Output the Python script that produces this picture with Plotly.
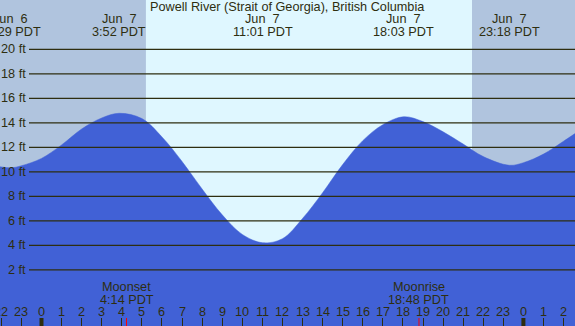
import plotly.graph_objects as go

# Tide curve: hours relative to Jun 7 00:00 PDT, heights in ft
tide_hours = [-2.07, -1.52, -1, 0, 1, 2, 3, 3.87, 5, 6, 7, 8, 9, 10, 11.02, 12, 13, 14,
              15, 16, 17, 18.05, 19, 20, 21, 22, 23.3, 24, 25, 26, 27]
tide_ft = [10.42, 10.33, 10.5, 11.1, 12.2, 13.5, 14.4, 14.78, 14.35, 12.85, 10.85, 8.6, 6.5,
           4.9, 4.22, 4.55, 6.2, 8.3, 10.6, 12.55, 13.85, 14.5, 14.1, 13.27, 12.27, 11.25,
           10.54, 10.75, 11.45, 12.5, 13.6]

# Extremes (labels at the top)
event_hours = [-1.52, 3.87, 11.02, 18.05, 23.3]
event_dates = ["Jun\u00a0\u00a06", "Jun\u00a0\u00a07", "Jun\u00a0\u00a07", "Jun\u00a0\u00a07", "Jun\u00a0\u00a07"]
event_times = ["22:29 PDT", "3:52 PDT", "11:01 PDT", "18:03 PDT", "23:18 PDT"]

# Moon events (labels at the bottom)
moon_hours = [4.233, 18.8]
moon_names = ["Moonset", "Moonrise"]
moon_times = ["4:14 PDT", "18:48 PDT"]

# Sun
sunrise_h = 5.2
sunset_h = 21.44

# Axes
x_range = [-2.067, 26.57]
y_range = [-2.57, 24.02]
ft_ticks = [2, 4, 6, 8, 10, 12, 14, 16, 18, 20]
hour_ticks = list(range(-2, 27))
hour_labels = [str(h % 24) for h in hour_ticks]
midnights = [0, 24]

TITLE = "Powell River (Strait of Georgia), British Columbia"
NIGHT = "#B0C4DE"
DAY = "#DFF7FF"
BLUE = "#4161D6"
DARK = "#2E2E10"
FONT = "Liberation Sans, Arial, sans-serif"
FS = 12.7

fig = go.Figure()
fig.add_trace(go.Scatter(x=x_range, y=[y_range[0] - 1] * 2, mode="lines",
                         line=dict(width=0, color=BLUE), hoverinfo="skip", showlegend=False))
fig.add_trace(go.Scatter(x=tide_hours, y=tide_ft, mode="lines", line_shape="spline",
                         line=dict(width=0.5, color=BLUE), fill="tonexty", fillcolor=BLUE,
                         hoverinfo="skip", showlegend=False))

shapes = []
# night shading
shapes.append(dict(type="rect", xref="x", yref="paper", x0=x_range[0] - 1, x1=sunrise_h,
                   y0=0, y1=1, fillcolor=NIGHT, line_width=0, layer="below"))
shapes.append(dict(type="rect", xref="x", yref="paper", x0=sunset_h, x1=x_range[1] + 1,
                   y0=0, y1=1, fillcolor=NIGHT, line_width=0, layer="below"))
# horizontal ft lines
for v in ft_ticks:
    shapes.append(dict(type="line", xref="paper", yref="y", x0=29 / 575, x1=1, y0=v, y1=v,
                       line=dict(color=DARK, width=1.3), layer="above"))
# midnight ticks (thicker)
for m in midnights:
    shapes.append(dict(type="line", xref="x", yref="paper", x0=m, x1=m, y0=0, y1=8 / 326,
                       line=dict(color=DARK, width=4), layer="above"))
# moon ticks (red)
for m in moon_hours:
    shapes.append(dict(type="line", xref="x", yref="paper", x0=m, x1=m, y0=0, y1=8 / 326,
                       line=dict(color="#FF0000", width=1), layer="above"))


def font():
    return dict(size=FS, color=DARK, family=FONT)


ann = []
ann.append(dict(text=TITLE, xref="paper", yref="paper", x=0.5, y=1 - 7 / 326,
                xanchor="center", yanchor="middle", showarrow=False, font=font()))
for h, d, t in zip(event_hours, event_dates, event_times):
    ann.append(dict(text=d, xref="x", yref="paper", x=h, y=1 - 19 / 326, xanchor="center",
                    yanchor="middle", showarrow=False, font=font()))
    ann.append(dict(text=t, xref="x", yref="paper", x=h, y=1 - 31.5 / 326, xanchor="center",
                    yanchor="middle", showarrow=False, font=font()))
for h, n, t in zip(moon_hours, moon_names, moon_times):
    ann.append(dict(text=n, xref="x", yref="paper", x=h, y=1 - 287 / 326, xanchor="center",
                    yanchor="middle", showarrow=False, font=font()))
    ann.append(dict(text=t, xref="x", yref="paper", x=h, y=1 - 299.5 / 326, xanchor="center",
                    yanchor="middle", showarrow=False, font=font()))
for v in ft_ticks:
    ann.append(dict(text=f"{v} ft", xref="paper", yref="y", x=27.5 / 575, y=v, xanchor="right",
                    yanchor="middle", showarrow=False, font=font()))
for h, lab in zip(hour_ticks, hour_labels):
    ann.append(dict(text=lab, xref="x", yref="paper", x=h, y=1 - 311.5 / 326, xanchor="center",
                    yanchor="middle", showarrow=False, font=font()))

fig.update_layout(
    width=575, height=326, margin=dict(l=0, r=0, t=0, b=0),
    paper_bgcolor=DAY, plot_bgcolor=DAY,
    shapes=shapes, annotations=ann, showlegend=False,
    xaxis=dict(range=x_range, showgrid=False, zeroline=False, showline=False,
               tickvals=hour_ticks, ticks="inside", ticklen=8, tickwidth=1, tickcolor=DARK,
               showticklabels=False, fixedrange=True),
    yaxis=dict(range=y_range, visible=False, showgrid=False, zeroline=False, fixedrange=True),
)

fig.write_html("out.html", config={"displayModeBar": False},
               post_script="document.body.style.margin='0';document.body.style.overflow='hidden';")
